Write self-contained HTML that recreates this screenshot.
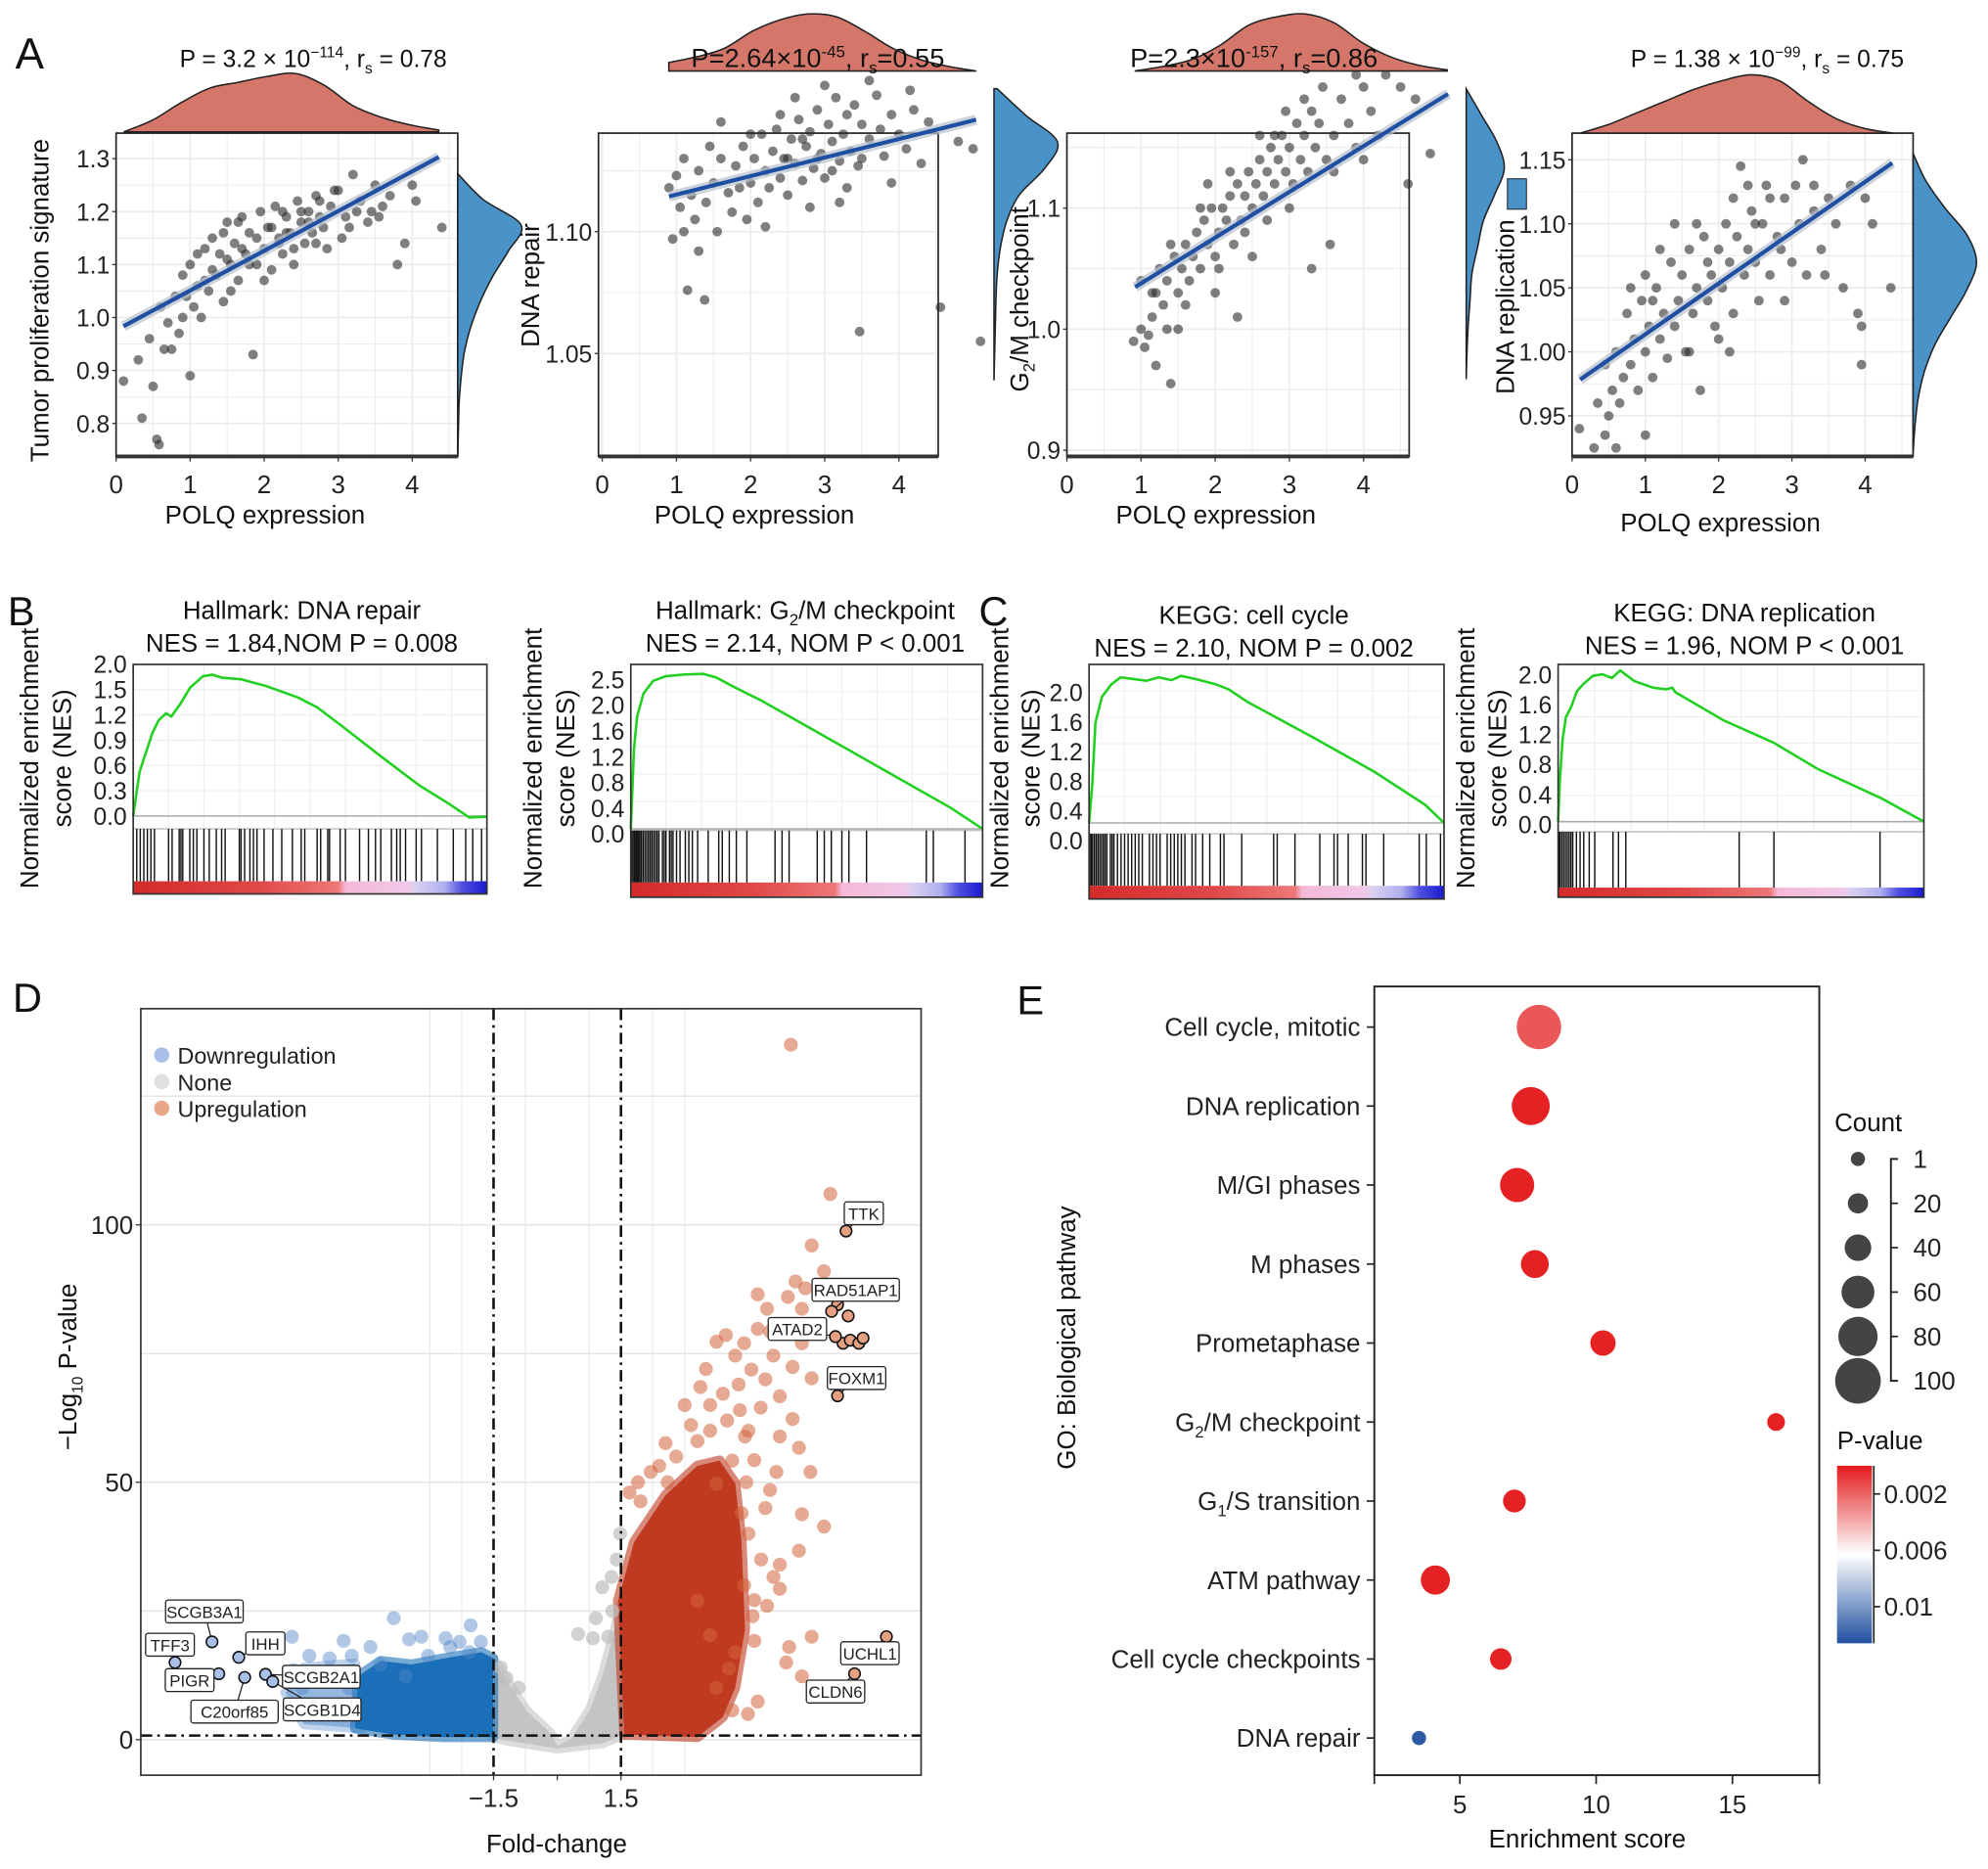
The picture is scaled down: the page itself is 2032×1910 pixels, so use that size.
<!DOCTYPE html>
<html><head><meta charset="utf-8"><title>POLQ figure</title>
<style>
html,body{margin:0;padding:0;background:#fff;}
svg{display:block;font-family:"Liberation Sans",Arial,sans-serif;}
</style></head>
<body>
<svg id="fig" xmlns="http://www.w3.org/2000/svg" width="2032" height="1910" viewBox="0 0 1568 1474">
<defs>
<linearGradient id="rankGrad" x1="0" x2="1" y1="0" y2="0">
<stop offset="0" stop-color="#d42a2a"/><stop offset="0.35" stop-color="#e04848"/><stop offset="0.58" stop-color="#ee7878"/>
<stop offset="0.6" stop-color="#f5b8d8"/><stop offset="0.78" stop-color="#f0c8e8"/><stop offset="0.8" stop-color="#d8d0f0"/>
<stop offset="0.88" stop-color="#b0b0f0"/><stop offset="0.93" stop-color="#5050e0"/><stop offset="1" stop-color="#1a1ad0"/>
</linearGradient>
<linearGradient id="pGrad" x1="0" x2="0" y1="0" y2="1">
<stop offset="0" stop-color="#e31a1c"/><stop offset="0.45" stop-color="#fbeaea"/><stop offset="0.5" stop-color="#ffffff"/><stop offset="1" stop-color="#2050a0"/>
</linearGradient>
</defs>
<rect x="0" y="0" width="1568" height="1474" fill="#fff"/>
<g id="panelA"></g>
<g id="panelBC"></g>
<g id="panelD"></g>
<g id="panelE"></g>

<g fill="#111">
<text x="12" y="54" font-size="34">A</text>
<text x="6" y="493" font-size="32">B</text>
<text x="772" y="493" font-size="32">C</text>
<text x="10" y="798" font-size="32">D</text>
<text x="802" y="800" font-size="32">E</text>

<text x="247" y="53" font-size="19" text-anchor="middle">P = 3.2 × 10<tspan dy="-8" font-size="12">−114</tspan><tspan dy="8">, r</tspan><tspan dy="5" font-size="12">s</tspan><tspan dy="-5"> = 0.78</tspan></text>
<text x="645" y="53" font-size="21" text-anchor="middle">P=2.64×10<tspan dy="-8" font-size="13">-45</tspan><tspan dy="8">, r</tspan><tspan dy="5" font-size="13">s</tspan><tspan dy="-5">=0.55</tspan></text>
<text x="989" y="53" font-size="21" text-anchor="middle">P=2.3×10<tspan dy="-8" font-size="13">-157</tspan><tspan dy="8">, r</tspan><tspan dy="5" font-size="13">s</tspan><tspan dy="-5">=0.86</tspan></text>
<text x="1394" y="53" font-size="19" text-anchor="middle">P = 1.38 × 10<tspan dy="-8" font-size="12">−99</tspan><tspan dy="8">, r</tspan><tspan dy="5" font-size="12">s</tspan><tspan dy="-5"> = 0.75</tspan></text>

<text x="209" y="413" font-size="20" text-anchor="middle">POLQ expression</text>
<text x="595" y="413" font-size="20" text-anchor="middle">POLQ expression</text>
<text x="959" y="413" font-size="20" text-anchor="middle">POLQ expression</text>
<text x="1357" y="419" font-size="20" text-anchor="middle">POLQ expression</text>
<text x="0" y="0" font-size="20" text-anchor="middle" transform="translate(38,237) rotate(-90)">Tumor proliferation signature</text>
<text x="0" y="0" font-size="20" text-anchor="middle" transform="translate(425,225) rotate(-90)">DNA repair</text>
<text x="0" y="0" font-size="20" text-anchor="middle" transform="translate(811,236) rotate(-90)">G<tspan dy="5" font-size="13">2</tspan><tspan dy="-5">/M checkpoint</tspan></text>
<text x="0" y="0" font-size="20" text-anchor="middle" transform="translate(1194,242) rotate(-90)">DNA replication</text>

<text x="238" y="488" font-size="20" text-anchor="middle">Hallmark: DNA repair</text>
<text x="238" y="514" font-size="20" text-anchor="middle">NES = 1.84,NOM P = 0.008</text>
<text x="635" y="488" font-size="20" text-anchor="middle">Hallmark: G<tspan dy="5" font-size="13">2</tspan><tspan dy="-5">/M checkpoint</tspan></text>
<text x="635" y="514" font-size="20" text-anchor="middle">NES = 2.14, NOM P &lt; 0.001</text>
<text x="989" y="492" font-size="20" text-anchor="middle">KEGG: cell cycle</text>
<text x="989" y="518" font-size="20" text-anchor="middle">NES = 2.10, NOM P = 0.002</text>
<text x="1376" y="490" font-size="20" text-anchor="middle">KEGG: DNA replication</text>
<text x="1376" y="516" font-size="20" text-anchor="middle">NES = 1.96, NOM P &lt; 0.001</text>

<g font-size="20" text-anchor="middle">
<text transform="translate(30,598) rotate(-90)">Normalized enrichment</text>
<text transform="translate(56,598) rotate(-90)">score (NES)</text>
<text transform="translate(427,598) rotate(-90)">Normalized enrichment</text>
<text transform="translate(453,598) rotate(-90)">score (NES)</text>
<text transform="translate(795,598) rotate(-90)">Normalized enrichment</text>
<text transform="translate(820,598) rotate(-90)">score (NES)</text>
<text transform="translate(1163,598) rotate(-90)">Normalized enrichment</text>
<text transform="translate(1188,598) rotate(-90)">score (NES)</text>
</g>

<text x="439" y="1461" font-size="20" text-anchor="middle">Fold-change</text>
<text transform="translate(60,1078) rotate(-90)" font-size="20" text-anchor="middle">−Log<tspan dy="5" font-size="12">10</tspan><tspan dy="-5"> P-value</tspan></text>

<text x="1252" y="1457" font-size="20" text-anchor="middle">Enrichment score</text>
<text transform="translate(848,1055) rotate(-90)" font-size="20" text-anchor="middle">GO: Biological pathway</text>
<text x="1447" y="892" font-size="20">Count</text>
<text x="1449" y="1143" font-size="20">P-value</text>
</g>
</svg>

<script>
// ================= DATA =================
const P1_POINTS=[[0.1,.88],[.3,.92],[.35,.81],[.45,.96],[.5,.87],[.55,.77],[.58,.76],[.6,1.02],[.7,.99],[.75,.94],[.8,1.04],[.85,.97],[.9,1.08],[1,.89],[1,1.1],[1.05,1.02],[1.1,1.06],[1.15,1.0],[1.2,1.13],[1.25,1.05],[1.3,1.15],[1.35,1.08],[1.4,1.12],[1.45,1.03],[1.5,1.18],[1.55,1.1],[1.6,1.14],[1.65,1.07],[1.7,1.19],[1.75,1.12],[1.8,1.16],[1.85,.93],[1.9,1.1],[1.95,1.2],[2,1.13],[2.05,1.17],[2.1,1.09],[2.15,1.21],[2.2,1.15],[2.25,1.12],[2.3,1.19],[2.35,1.16],[2.4,1.13],[2.45,1.22],[2.5,1.18],[2.55,1.14],[2.6,1.2],[2.65,1.16],[2.7,1.23],[2.75,1.19],[2.8,1.17],[2.9,1.21],[3,1.24],[3.1,1.19],[3.2,1.27],[3.3,1.22],[3.4,1.18],[3.5,1.25],[3.6,1.21],[3.7,1.23],[3.8,1.10],[3.9,1.14],[4.0,1.25],[4.05,1.22],[4.4,1.17],[1.3,1.09],[1.5,1.11],[1.7,1.13],[1.9,1.15],[2.1,1.17],[2.3,1.16],[2.5,1.2],[2.7,1.14],[2.2,1.14],[1.8,1.1],[2.6,1.18],[1.2,1.07],[.9,1.0],[3.05,1.15],[3.25,1.2],[2.95,1.24],[1.45,1.16],[1.65,1.18],[2.0,1.07],[2.4,1.1],[2.85,1.13],[3.45,1.2],[1.1,1.12],[0.65,.94],[0.95,1.04],[1.55,1.05],[2.25,1.2],[2.75,1.22],[3.15,1.17],[3.55,1.19]];
const P2_POINTS=[[.9,1.118],[.95,1.097],[1,1.123],[1.05,1.11],[1.1,1.13],[1.15,1.076],[1.2,1.115],[1.25,1.105],[1.3,1.125],[1.38,1.072],[1.4,1.112],[1.5,1.12],[1.55,1.1],[1.6,1.13],[1.7,1.116],[1.75,1.108],[1.8,1.127],[1.85,1.118],[1.9,1.135],[2,1.12],[2.05,1.13],[2.1,1.112],[2.15,1.14],[2.2,1.125],[2.25,1.118],[2.3,1.133],[2.35,1.142],[2.4,1.122],[2.45,1.13],[2.5,1.115],[2.55,1.138],[2.6,1.128],[2.65,1.146],[2.7,1.121],[2.75,1.135],[2.8,1.141],[2.85,1.126],[2.9,1.15],[2.95,1.132],[3,1.122],[3.05,1.144],[3.1,1.137],[3.15,1.155],[3.2,1.129],[3.25,1.14],[3.3,1.148],[3.35,1.133],[3.4,1.152],[3.45,1.127],[3.47,1.059],[3.5,1.144],[3.6,1.138],[3.7,1.156],[3.8,1.131],[3.9,1.148],[4,1.14],[4.1,1.134],[4.2,1.15],[4.3,1.128],[4.4,1.145],[4.56,1.069],[4.8,1.137],[5.0,1.134],[5.1,1.055],[1.6,1.145],[2.2,1.102],[2.8,1.11],[3.3,1.118],[3.9,1.12],[1.1,1.1],[1.95,1.105],[2.6,1.155],[3.0,1.16],[3.6,1.162],[1.45,1.135],[2.4,1.148],[3.2,1.112],[2.0,1.14],[2.9,1.13],[3.75,1.142],[4.15,1.158],[1.3,1.092],[2.5,1.13],[2.7,1.138],[3.1,1.125],[3.5,1.13]];
const P3_POINTS=[[.9,.99],[1,1.0],[1.05,.985],[1.1,.995],[1.15,1.01],[1.2,1.03],[1.2,.97],[1.25,1.05],[1.3,1.02],[1.35,1.04],[1.4,.955],[1.45,1.06],[1.5,1.03],[1.55,1.05],[1.6,1.07],[1.65,1.04],[1.7,1.06],[1.75,1.08],[1.8,1.05],[1.85,1.09],[1.9,1.07],[1.95,1.1],[2.0,1.06],[2.05,1.08],[2.1,1.1],[2.15,1.09],[2.2,1.11],[2.25,1.07],[2.3,1.12],[2.35,1.09],[2.4,1.11],[2.45,1.13],[2.5,1.1],[2.55,1.12],[2.6,1.14],[2.65,1.11],[2.7,1.13],[2.75,1.15],[2.8,1.12],[2.85,1.14],[2.9,1.16],[2.95,1.13],[3.0,1.15],[3.05,1.12],[3.1,1.17],[3.15,1.14],[3.2,1.16],[3.25,1.13],[3.3,1.18],[3.35,1.15],[3.4,1.17],[3.5,1.14],[3.6,1.16],[3.7,1.19],[3.8,1.17],[3.9,1.15],[4.0,1.2],[4.1,1.18],[4.2,1.16],[4.3,1.21],[4.5,1.2],[4.6,1.12],[4.7,1.19],[4.9,1.145],[3.55,1.07],[2.3,1.01],[3.3,1.05],[1.0,1.04],[1.35,1.0],[1.6,1.02],[2.0,1.03],[2.5,1.06],[1.8,1.1],[2.2,1.13],[2.7,1.09],[3.0,1.1],[1.4,1.07],[2.6,1.16],[3.45,1.2],[1.9,1.12],[2.4,1.08],[2.8,1.16],[3.2,1.19],[3.6,1.13],[1.5,1.0],[4.0,1.14],[3.9,1.21],[2.05,1.05],[2.95,1.18],[1.15,1.03]];
const P4_POINTS=[[.1,.94],[.3,.925],[.35,.96],[.45,.935],[.45,.99],[.5,.95],[.55,.97],[.6,.925],[.6,1.0],[.7,.98],[.75,1.03],[.8,.99],[.85,1.01],[.9,.97],[.95,1.04],[1.0,.935],[1.0,1.0],[1.05,1.02],[1.1,.98],[1.15,1.05],[1.2,1.01],[1.25,1.03],[1.3,.995],[1.35,1.07],[1.4,1.02],[1.45,1.04],[1.5,1.06],[1.55,1.0],[1.6,1.08],[1.65,1.03],[1.7,1.05],[1.75,.97],[1.8,1.09],[1.85,1.04],[1.9,1.06],[1.95,1.02],[2.0,1.08],[2.05,1.05],[2.1,1.1],[2.15,1.07],[2.2,1.03],[2.25,1.09],[2.3,1.145],[2.35,1.06],[2.4,1.08],[2.45,1.11],[2.5,1.07],[2.55,1.04],[2.6,1.1],[2.65,1.13],[2.7,1.06],[2.8,1.09],[2.9,1.12],[3.0,1.07],[3.1,1.1],[3.15,1.15],[3.2,1.06],[3.3,1.11],[3.4,1.08],[3.5,1.12],[3.6,1.1],[3.7,1.05],[3.8,1.13],[3.9,1.03],[3.95,1.02],[4.0,1.12],[4.1,1.1],[4.35,1.05],[3.95,.99],[1.0,1.06],[1.4,1.1],[2.0,1.01],[2.4,1.13],[2.7,1.12],[1.2,1.08],[0.8,1.05],[1.6,1.0],[2.2,1.12],[2.9,1.04],[3.3,1.13],[1.1,1.04],[1.7,1.1],[2.5,1.1],[3.05,1.13],[0.65,0.96],[2.15,1.0],[2.85,1.08],[1.85,1.07],[3.45,1.06]];
const P1_FIT=[0.976,0.075];
const P2_FIT=[1.1076,0.0076];
const P3_FIT=[1.0,0.0378];
const P4_FIT=[0.974,0.0397];
const A_X_TICKS=[0,1,2,3,4];
const P1_Y_TICKS=[0.8,0.9,1.0,1.1,1.2,1.3];
const P2_Y_TICKS=[1.05,1.10];
const P3_Y_TICKS=[0.9,1.0,1.1];
const P4_Y_TICKS=[0.95,1.00,1.05,1.10,1.15];
const P1_TOP=[0,.2,.5,.75,.85,.95,1,.8,.45,.25,.12,.03];
const P1_RIGHT=[0,.4,1,.8,.55,.35,.2,.1,.05,.02,.01,0];
const P2_TOP=[0.15,.25,.4,.7,.9,1,.95,.7,.4,.2,.08,0];
const P2_RIGHT=[0.05,.5,1,.8,.4,.2,.1,.05,.03,.02,.01,0];
const P3_TOP=[0,.08,.2,.45,.8,.95,1,.85,.5,.25,.1,.02];
const P3_RIGHT=[0,.4,.8,1,.75,.45,.3,.15,.1,.05,.02,0];
const P4_TOP=[0,.15,.35,.55,.75,.9,1,.9,.55,.25,.08,0];
const P4_RIGHT=[0,.2,.5,.85,1,.85,.6,.35,.18,.08,.03,0];

const B1_ES=[[0,0],[.018,.58],[.054,1.09],[.072,1.26],[.093,1.35],[.108,1.31],[.134,1.48],[.161,1.69],[.197,1.84],[.224,1.86],[.251,1.82],[.305,1.8],[.376,1.71],[.466,1.56],[.52,1.43],[.591,1.18],[.699,.79],[.806,.41],[.896,.15],[.95,-.02],[1,-.01]];
const B2_ES=[[0,0],[.009,1.33],[.018,1.88],[.036,2.26],[.063,2.47],[.099,2.55],[.153,2.58],[.207,2.59],[.243,2.53],[.297,2.36],[.369,2.15],[.55,1.55],[.73,.95],[.91,.35],[1,0]];
const C1_ES=[[0,0],[.009,.54],[.018,1.43],[.036,1.8],[.063,1.98],[.089,2.08],[.161,2.03],[.196,2.08],[.232,2.04],[.259,2.1],[.304,2.05],[.357,1.98],[.393,1.91],[.446,1.73],[.625,1.24],[.804,.73],[.946,.26],[1,0]];
const C2_ES=[[0,0],[.005,.57],[.012,1.09],[.021,1.39],[.035,1.52],[.052,1.74],[.069,1.83],[.095,1.94],[.121,1.96],[.147,1.91],[.17,2.01],[.208,1.87],[.26,1.78],[.295,1.76],[.312,1.78],[.321,1.72],[.451,1.35],[.589,1.05],[.71,.7],[.884,.31],[1,0]];
const B1_HITS=[.01,.02,.03,.04,.05,.06,.1,.11,.13,.135,.14,.16,.17,.18,.2,.215,.235,.25,.26,.3,.305,.315,.33,.34,.35,.37,.395,.42,.45,.475,.485,.52,.53,.55,.555,.585,.6,.64,.665,.685,.7,.73,.745,.755,.77,.8,.815,.86,.905,.94,.96,.985];
const B2_HITS=[.002,.006,.01,.014,.018,.022,.026,.03,.035,.04,.045,.05,.055,.06,.065,.07,.075,.08,.09,.095,.1,.11,.115,.12,.13,.14,.155,.165,.175,.19,.22,.25,.26,.28,.3,.33,.41,.43,.45,.53,.55,.57,.6,.62,.67,.84,.86,.95];
const C1_HITS=[.002,.006,.01,.015,.02,.025,.03,.035,.04,.045,.05,.06,.065,.07,.08,.09,.1,.11,.12,.13,.14,.15,.17,.18,.19,.2,.22,.23,.24,.25,.26,.27,.29,.3,.32,.34,.37,.38,.43,.52,.53,.58,.65,.69,.7,.73,.77,.78,.83,.93,.95,.99];
const C2_HITS=[.002,.005,.01,.015,.02,.025,.03,.035,.04,.05,.06,.07,.085,.1,.15,.165,.185,.495,.59,.88];
const B1_TICKS=['2.0','1.5','1.2','0.9','0.6','0.3','0.0'];
const B2_TICKS=['2.5','2.0','1.6','1.2','0.8','0.4','0.0'];
const C1_TICKS=['2.0','1.6','1.2','0.8','0.4','0.0'];
const C2_TICKS=['2.0','1.6','1.2','0.8','0.4','0.0'];

const UP_POINTS=[[6.43,106],[5.99,96],[6.28,91],[5.61,89],[4.72,86.5],[5.43,86],[4.94,83.7],[5.76,83.7],[4.72,79.8],[3.97,78.6],[3.75,77.3],[4.19,74.6],[5.09,74.6],[4.57,71.9],[5.54,72.4],[5.99,70.2],[3.37,68.5],[3.0,65],[3.9,67.2],[5.24,66.7],[4.79,64.5],[5.54,62.3],[3.15,61.1],[4.42,58.9],[5.69,56.7],[4.12,54.2],[2.4,53.2],[5.16,52],[5.96,52],[1.7,48],[1.96,46.3],[5.01,48.5],[6.28,41.4],[5.76,43.8],[5.69,36.7],[5.24,34],[5.09,31.6],[5.24,29.3],[4.64,27.1],[4.94,26],[5.99,20],[4.64,19.2],[5.46,18],[4.19,17],[5.39,15],[5.76,12.3],[4.72,7.4],[4.49,5],[4.12,5.7],[4.04,13.8],[3.75,10.1],[3.6,20.3],[3.3,27],[4.34,44],[3.75,49.7],[4.64,54.3],[2.55,57.6],[3.6,60],[5.24,58.9],[4.27,69],[5.01,79.3],[5.76,77],[5.84,87.7],[5.5,135],[4.5,40],[4.8,35],[4.4,30],[4.6,24],[4.45,50],[4.9,45],[2.8,55],[3.3,58],[4.0,62],[3.6,65],[4.3,64],[4.5,60],[4.9,70],[4.4,77],[3.5,72],[2.6,50],[2.2,52],[1.9,50]];
const DOWN_POINTS=[[-3.85,23.6],[-2.04,22.2],[-6.25,20],[-5.03,19.2],[-3.49,19.5],[-2.63,19.7],[-5.84,16.3],[-5.36,15.8],[-4.84,16.3],[-3.04,16.3],[-2.07,17],[-2.52,18],[-6.21,13.5],[-4.16,14.6],[-3.57,12.3],[-5.58,11.3],[-4.4,18],[-3.2,20],[-2.3,19],[-5.2,13],[-6.0,10],[-4.9,10],[-1.8,19]];
const NONE_POINTS=[[1.48,40],[1.28,31.6],[1.06,29.6],[0.91,23.6],[0.49,20.5],[0.84,19.7],[-1.33,14],[-0.91,10.1],[1.3,25],[1.2,20],[1.4,35],[-1.2,12]];
const UP_CORE=[[1.58,1],[1.43,27],[1.81,38.4],[2.55,47.5],[3.3,53.2],[3.82,54.2],[4.19,49.8],[4.34,38.4],[4.42,21.4],[4.19,10.1],[3.9,4.4],[3.3,0.5]];
const DOWN_CORE=[[-4.76,2.2],[-4.69,12.3],[-4.16,15.3],[-3.42,14.6],[-2.67,15.8],[-1.78,17],[-1.51,15.8],[-1.51,0.5],[-2.67,0.5],[-3.87,1]];
const DOWN_TAIL=[[-6.4,9.1],[-5.96,14],[-4.76,14.8],[-4.6,2.2],[-5.96,3]];
const NONE_CORE=[[-1.51,15.8],[-1.18,11.3],[-0.73,5.7],[-0.13,1],[0,-1.2],[0.31,0],[0.76,5.7],[1.06,12.3],[1.36,21.4],[1.48,25.9],[1.57,1],[1.06,-0.7],[0,-1.7],[-1.18,-0.2],[-1.51,0.5]];
const GENE_LABELS=['TTK','RAD51AP1','ATAD2','FOXM1','UCHL1','CLDN6','SCGB3A1','TFF3','IHH','PIGR','SCGB2A1','C20orf85','SCGB1D4'];
const GENE_FC=[6.8,6.46,6.55,6.6,7.75,7.0,-8.13,-9.0,-7.5,-7.97,-6.87,-7.36,-6.7];
const GENE_P=[98.8,83.2,78.3,66.8,20,12.8,19,15,16,12.8,12.7,12.1,11.3];
const HILITE_FC=[6.85,6.73,6.9,7.1,7.2,6.6];
const HILITE_P=[82.3,77,77.6,77,78,84.5];
const D_Y_TICKS=[0,50,100];
const D_X_TICKS=['−1.5','1.5'];
const D_X_TICK_VALUES=[-1.5,1.5];

const E_PATHWAYS=['Cell cycle, mitotic','DNA replication','M/GI phases','M phases','Prometaphase','G_2/M checkpoint','G_1/S transition','ATM pathway','Cell cycle checkpoints','DNA repair'];
const E_SCORES=[7.9,7.6,7.1,7.75,10.25,16.6,7.0,4.1,6.5,3.5];
const E_COUNTS=[96,76,64,44,36,12,28,48,24,1];
const E_PVALUES=[0.0015,0.0002,0.0002,0.0002,0.0002,0.0002,0.0002,0.0002,0.0002,0.0122];
const E_X_TICKS=[5,10,15];
const COUNT_LEGEND=[1,20,40,60,80,100];
const PVAL_LEGEND=[0.002,0.006,0.01];

// ================= HELPERS =================
const NS='http://www.w3.org/2000/svg';
function mk(tag,attrs,parent){const e=document.createElementNS(NS,tag);for(const k in attrs)e.setAttribute(k,attrs[k]);parent.appendChild(e);return e;}
function smoothPath(pts){
  let d='M'+pts[0][0].toFixed(1)+','+pts[0][1].toFixed(1);
  for(let i=0;i<pts.length-1;i++){
    const p0=pts[i-1]||pts[i],p1=pts[i],p2=pts[i+1],p3=pts[i+2]||p2;
    const c1=[p1[0]+(p2[0]-p0[0])/6,p1[1]+(p2[1]-p0[1])/6];
    const c2=[p2[0]-(p3[0]-p1[0])/6,p2[1]-(p3[1]-p1[1])/6];
    d+=' C'+c1[0].toFixed(1)+','+c1[1].toFixed(1)+' '+c2[0].toFixed(1)+','+c2[1].toFixed(1)+' '+p2[0].toFixed(1)+','+p2[1].toFixed(1);
  }
  return d;
}

// ================= PANEL A =================
const gA=document.getElementById('panelA');
const A_PLOTS=[
 {id:'a1',pts:P1_POINTS,fit:P1_FIT,fitX:[0.1,4.36],yt:P1_Y_TICKS,dec:1,top:P1_TOP,right:P1_RIGHT,x0:91.5,xk:58.4,yRef:1.0,yPx:250.4,yk:417.6,fr:[91.5,105,361,360],topD:[97.5,346,104,46],rightD:[137,360,361,50]},
 {id:'a2',pts:P2_POINTS,fit:P2_FIT,fitX:[0.9,5.04],yt:P2_Y_TICKS,dec:2,top:P2_TOP,right:P2_RIGHT,x0:475,xk:58.5,yRef:1.10,yPx:182.7,yk:1922,fr:[472,105,740,360],topD:[527.5,770,56,45],rightD:[70,300,784,50]},
 {id:'a3',pts:P3_POINTS,fit:P3_FIT,fitX:[0.92,5.14],yt:P3_Y_TICKS,dec:1,top:P3_TOP,right:P3_RIGHT,x0:841.5,xk:58.5,yRef:1.0,yPx:259.6,yk:955,fr:[841.5,105,1111.5,360],topD:[895,1141.5,56,45],rightD:[70,299,1156.5,30]},
 {id:'a4',pts:P4_POINTS,fit:P4_FIT,fitX:[0.11,4.37],yt:P4_Y_TICKS,dec:2,top:P4_TOP,right:P4_RIGHT,x0:1240,xk:57.8,yRef:1.0,yPx:277.5,yk:1010,fr:[1240,105,1509,360],topD:[1246.5,1493,105,46],rightD:[121,357,1509,50]}
];
A_PLOTS.forEach(pl=>{
  const g=mk('g',{},gA);
  
  
  const sx=v=>pl.x0+v*pl.xk, sy=v=>pl.yPx-(v-pl.yRef)*pl.yk;
  const [fx0,fy0,fx1,fy1]=pl.fr;
  A_X_TICKS.forEach(t=>{
    [t,t+0.5].forEach((v,k)=>{const x=sx(v);if(x>fx0&&x<fx1){const l=mk('line',{x1:x,x2:x,y1:fy0,y2:fy1,stroke:'#ececec','stroke-width':k?0.8:1.3},g);
      
      }});
  });
  const step=pl.yt.length>1?pl.yt[1]-pl.yt[0]:0.05;
  pl.yt.forEach(t=>{
    [t,t+step/2].forEach((v,k)=>{const y=sy(v);if(y>fy0&&y<fy1){const l=mk('line',{x1:fx0,x2:fx1,y1:y,y2:y,stroke:'#ececec','stroke-width':k?0.8:1.3},g);
      
      }});
  });
  const fr=mk('rect',{x:fx0,y:fy0,width:fx1-fx0,height:fy1-fy0,fill:'none',stroke:'#222','stroke-width':1.3},g);
  
  
  const bl=mk('line',{x1:fx0,x2:fx1,y1:fy1,y2:fy1,stroke:'#333','stroke-width':3},g);
  
  
  const [tx0,tx1,tb,th]=pl.topD;
  const tpts=pl.top.map((v,i)=>[tx0+i*(tx1-tx0)/(pl.top.length-1),tb-v*th]);
  const tp=mk('path',{d:'M'+tx0+','+tb+' L'+smoothPath(tpts).slice(1)+' L'+tx1+','+tb+' Z',fill:'#d4776a',stroke:'#222','stroke-width':1.2},g);
  
  
  const [ry0,ry1,rb,rw]=pl.rightD;
  const rpts=pl.right.map((v,i)=>[rb+v*rw,ry0+i*(ry1-ry0)/(pl.right.length-1)]);
  const rp=mk('path',{d:'M'+rb+','+ry0+' L'+smoothPath(rpts).slice(1)+' L'+rb+','+ry1+' Z',fill:'#4a93c9',stroke:'#222','stroke-width':1.2},g);
  
  
  pl.pts.forEach(p=>{
    const c=mk('circle',{cx:sx(p[0]),cy:sy(p[1]),r:3.8,fill:'#2a2a2a','fill-opacity':0.6},g);
    
    
  });
  const [a,b]=pl.fit;
  const fx=pl.fitX;
  const band=mk('line',{x1:sx(fx[0]),y1:sy(a+b*fx[0]),x2:sx(fx[1]),y2:sy(a+b*fx[1]),stroke:'#b8c0cc','stroke-width':8,'stroke-opacity':0.7},g);
  
  
  const fl=mk('line',{x1:sx(fx[0]),y1:sy(a+b*fx[0]),x2:sx(fx[1]),y2:sy(a+b*fx[1]),stroke:'#1f4fa3','stroke-width':3.2},g);
  
  
  A_X_TICKS.forEach(t=>{
    const x=sx(t);
    const tm=mk('line',{x1:x,x2:x,y1:fy1,y2:fy1+4,stroke:'#333','stroke-width':1},g);
    
    
    const tl=mk('text',{x:x,y:fy1+29,'font-size':20,'text-anchor':'middle',fill:'#222'},g);
    tl.textContent=String(t);
    
    
  });
  pl.yt.forEach(t=>{
    const y=sy(t);
    const tm=mk('line',{x1:fx0-3,x2:fx0,y1:y,y2:y,stroke:'#333','stroke-width':1},g);
    
    
    const tl=mk('text',{x:fx0-5,y:y+7,'font-size':19,'text-anchor':'end',fill:'#222'},g);
    tl.textContent=t.toFixed(pl.dec);
    
    
  });
});
(function(){const r=mk('rect',{x:1189,y:141,width:15,height:24,fill:'#4a93c9',stroke:'#222','stroke-width':0.8},gA);

})();

// ================= PANELS B/C =================
const gB=document.getElementById('panelBC');
const GSEA=[
 {id:'b1',es:B1_ES,hits:B1_HITS,ticks:B1_TICKS,x0:105,x1:384,top:524,zero:643.5,k:59.9,barTop:653.7,barBot:695,cbBot:705,labX:100,labTop:523.7,labBot:643.5},
 {id:'b2',es:B2_ES,hits:B2_HITS,ticks:B2_TICKS,x0:497.5,x1:775,top:524,zero:653.7,k:47.2,barTop:655,barBot:696,cbBot:707.6,labX:492.5,labTop:535.8,labBot:657.6},
 {id:'c1',es:C1_ES,hits:C1_HITS,ticks:C1_TICKS,x0:859,x1:1139,top:524,zero:649,k:55.2,barTop:657.6,barBot:698.6,cbBot:709,labX:854,labTop:546,labBot:662.7},
 {id:'c2',es:C2_ES,hits:C2_HITS,ticks:C2_TICKS,x0:1229,x1:1517.5,top:524,zero:648,k:59.3,barTop:656,barBot:700,cbBot:707.6,labX:1224,labTop:532,labBot:650}
];
GSEA.forEach(p=>{
  const g=mk('g',{},gB);
  
  
  const sx=f=>p.x0+f*(p.x1-p.x0), sy=v=>p.zero-v*p.k;
  for(let i=1;i<10;i++){const x=p.x0+i*(p.x1-p.x0)/10;
    const l=mk('line',{x1:x,x2:x,y1:p.top,y2:p.barTop,stroke:'#f0f0f0','stroke-width':1},g);
    
    }
  for(let i=1;i<6;i++){const y=p.top+i*(p.zero-p.top)/6;
    const l=mk('line',{x1:p.x0,x2:p.x1,y1:y,y2:y,stroke:'#f0f0f0','stroke-width':1},g);
    
    }
  const z=mk('line',{x1:p.x0,x2:p.x1,y1:p.zero,y2:p.zero,stroke:'#aaa','stroke-width':1.2},g);
  
  
  const sep=mk('line',{x1:p.x0,x2:p.x1,y1:p.barTop,y2:p.barTop,stroke:'#bbb','stroke-width':1},g);
  
  
  p.hits.forEach(f=>{
    const h=mk('line',{x1:sx(f),x2:sx(f),y1:p.barTop,y2:p.barBot,stroke:'#111','stroke-width':1.1},g);
    
    
  });
  const cb=mk('rect',{x:p.x0,y:p.barBot,width:p.x1-p.x0,height:p.cbBot-p.barBot,fill:'url(#rankGrad)'},g);
  
  
  const d=p.es.map((q,i)=>(i?'L':'M')+sx(q[0]).toFixed(1)+','+sy(q[1]).toFixed(1)).join(' ');
  const cv=mk('path',{d:d,fill:'none',stroke:'#22d022','stroke-width':2},g);
  
  
  const fr=mk('rect',{x:p.x0,y:p.top,width:p.x1-p.x0,height:p.cbBot-p.top,fill:'none',stroke:'#333','stroke-width':1.3},g);
  
  
  p.ticks.forEach((t,i)=>{
    const y=p.labTop+i*(p.labBot-p.labTop)/(p.ticks.length-1);
    const tl=mk('text',{x:p.labX,y:y+7,'font-size':19,'text-anchor':'end',fill:'#222'},g);
    tl.textContent=t;
    
    
  });
});

// ================= PANEL D =================
const gD=document.getElementById('panelD');
const DX=fc=>439.5+fc*33.5, DY=v=>1372-v*4.06;
const D_FRAME=[111,795.5,726.5,1400];
(function(){
  const [x0,y0,x1,y1]=D_FRAME;
  const bg=mk('rect',{x:x0,y:y0,width:x1-x0,height:y1-y0,fill:'#fff'},gD);
  
  
  [-3,-2.25,-0.75,0.75,2.25,3].forEach(v=>{const l=mk('line',{x1:DX(v),x2:DX(v),y1:y0,y2:y1,stroke:'#ececec','stroke-width':1},gD);
    
    });
  [0,25,50,75,100,125].forEach(v=>{const l=mk('line',{x1:x0,x2:x1,y1:DY(v),y2:DY(v),stroke:'#e6e6e6','stroke-width':1.2},gD);
    
    });
  const poly=(arr,fill,op,name)=>{const p=mk('polygon',{points:arr.map(q=>DX(q[0]).toFixed(1)+','+DY(q[1]).toFixed(1)).join(' '),fill:fill,'fill-opacity':op,stroke:fill,'stroke-width':8,'stroke-linejoin':'round','stroke-opacity':op*0.6},gD);
    
    };
  poly(NONE_CORE,'#c4c4c4',1,'none-gene-cloud');
  poly(DOWN_TAIL,'#7aa6d8',0.8,'down-gene-sparse-cloud');
  poly(DOWN_CORE,'#1a6fb8',1,'down-gene-cloud');
  poly(UP_CORE,'#c03a22',1,'up-gene-cloud');
  const pts=(arr,fill,op,name)=>arr.forEach(q=>{const c=mk('circle',{cx:DX(q[0]),cy:DY(q[1]),r:5.5,fill:fill,'fill-opacity':op},gD);
    
    });
  pts(NONE_POINTS,'#bdbdbd',0.7,'none-gene-point');
  pts(DOWN_POINTS,'#4f86c8',0.45,'down-gene-point');
  pts(UP_POINTS,'#d1633a',0.55,'up-gene-point');
  HILITE_FC.forEach((fc,i)=>{const c=mk('circle',{cx:DX(fc),cy:DY(HILITE_P[i]),r:4.5,fill:'#e4a080',stroke:'#111','stroke-width':1.2},gD);
    
    });
  const offs=[[14,-14],[19,-17],[-30,-6],[15,-14],[-13,13],[-15,14],[-6,-24],[-4,-14],[21,-11],[-23,5],[44,2],[-8,27],[39,22]];
  GENE_LABELS.forEach((name,i)=>{
    const px=DX(GENE_FC[i]),py=DY(GENE_P[i]);
    const up=GENE_FC[i]>0;
    const bx=px+offs[i][0],by=py+offs[i][1];
    const w=name.length*7.6+8;
    const ln=mk('line',{x1:px,y1:py,x2:bx,y2:by,stroke:'#222','stroke-width':1},gD);
    
    
    const c=mk('circle',{cx:px,cy:py,r:4.5,fill:up?'#e4a080':'#a8c0e8',stroke:'#111','stroke-width':1.2},gD);
    
    
    const r=mk('rect',{x:bx-w/2,y:by-9,width:w,height:18,rx:2,fill:'#fff',stroke:'#222','stroke-width':1},gD);
    
    
    const t=mk('text',{x:bx,y:by+5,'font-size':13,'text-anchor':'middle',fill:'#222'},gD);
    t.textContent=name;
    
    
  });
  D_X_TICK_VALUES.forEach(v=>{const l=mk('line',{x1:DX(v),x2:DX(v),y1:y0,y2:y1,stroke:'#111','stroke-width':2,'stroke-dasharray':'9 4 2 4'},gD);
    
    });
  const hl=mk('line',{x1:x0,x2:x1,y1:DY(0.8),y2:DY(0.8),stroke:'#111','stroke-width':2,'stroke-dasharray':'9 4 2 4'},gD);
  
  
  const fr=mk('rect',{x:x0,y:y0,width:x1-x0,height:y1-y0,fill:'none',stroke:'#333','stroke-width':1.3},gD);
  
  
  D_Y_TICKS.forEach(v=>{
    const tm=mk('line',{x1:x0-4,x2:x0,y1:DY(v),y2:DY(v),stroke:'#333'},gD);
    
    
    const t=mk('text',{x:x0-6,y:DY(v)+7,'font-size':20,'text-anchor':'end',fill:'#222'},gD);
    t.textContent=String(v);
    
    
  });
  [-1.5,0,1.5].forEach(v=>{const tm=mk('line',{x1:DX(v),x2:DX(v),y1:y1,y2:y1+4,stroke:'#333'},gD);
    
    });
  D_X_TICKS.forEach((s,i)=>{
    const t=mk('text',{x:DX(D_X_TICK_VALUES[i]),y:1425,'font-size':20,'text-anchor':'middle',fill:'#222'},gD);
    t.textContent=s;
    
    
  });
  const LEG=[['Downregulation','#a8c0e8'],['None','#e0e0e0'],['Upregulation','#e8a888']];
  LEG.forEach((e,i)=>{
    const y=832+i*21;
    const c=mk('circle',{cx:127.5,cy:y,r:6,fill:e[1]},gD);
    
    
    const t=mk('text',{x:140,y:y+7,'font-size':18,fill:'#222'},gD);
    t.textContent=e[0];
    
    
  });
})();

// ================= PANEL E =================
const gE=document.getElementById('panelE');
const EX=v=>1044+v*21.5;
const ERow=i=>810+i*62.3;
const ER=c=>5.5+0.125*c;
function pColor(p){
  const t=Math.min(1,Math.max(0,p/0.0126));
  const red=[227,26,28],wh=[255,255,255],bl=[33,80,160];
  let a,b,u;
  if(t<0.45){a=red;b=wh;u=t/0.45;}else{a=wh;b=bl;u=(t-0.45)/0.55;}
  return 'rgb('+a.map((v,i)=>Math.round(v+(b[i]-v)*u)).join(',')+')';
}
function richLabel(el,s){
  let sub=false;
  s.split(/(_\w)/).forEach(part=>{
    if(!part)return;
    if(part[0]==='_'){const ts=mk('tspan',{dy:5,'font-size':13},el);ts.textContent=part[1];sub=true;}
    else{const ts=mk('tspan',sub?{dy:-5}:{},el);ts.textContent=part;sub=false;}
  });
}
(function(){
  const fr=mk('rect',{x:1084,y:778,width:351,height:622,fill:'none',stroke:'#222','stroke-width':1.5},gE);
  
  
  E_PATHWAYS.forEach((name,i)=>{
    const y=ERow(i);
    const tm=mk('line',{x1:1078,x2:1084,y1:y,y2:y,stroke:'#222','stroke-width':1.3},gE);
    
    
    const t=mk('text',{x:1073,y:y+7,'font-size':20,'text-anchor':'end',fill:'#222'},gE);
    richLabel(t,name);
    
    
    const c=mk('circle',{cx:EX(E_SCORES[i]),cy:y,r:ER(E_COUNTS[i]),fill:pColor(E_PVALUES[i])},gE);
    
    
  });
  [1084,1435].forEach(x=>{const tm=mk('line',{x1:x,x2:x,y1:1400,y2:1407,stroke:'#222','stroke-width':1.3},gE);
    
    });
  E_X_TICKS.forEach(v=>{
    const tm=mk('line',{x1:EX(v),x2:EX(v),y1:1400,y2:1407,stroke:'#222','stroke-width':1.3},gE);
    
    
    const t=mk('text',{x:EX(v),y:1430,'font-size':20,'text-anchor':'middle',fill:'#222'},gE);
    t.textContent=String(v);
    
    
  });
  const br=mk('path',{d:'M1497,914 L1491.5,914 L1491.5,1089 L1497,1089',fill:'none',stroke:'#222','stroke-width':1.5},gE);
  
  
  COUNT_LEGEND.forEach((c,i)=>{
    const y=914+i*35;
    const cc=mk('circle',{cx:1465.5,cy:y,r:ER(c),fill:'#444'},gE);
    
    
    if(i>0&&i<5){const tm=mk('line',{x1:1491.5,x2:1497,y1:y,y2:y,stroke:'#222','stroke-width':1.3},gE);
      
      }
    const t=mk('text',{x:1509,y:y+7,'font-size':20,fill:'#222'},gE);
    t.textContent=String(c);
    
    
  });
  const cb=mk('rect',{x:1449,y:1156,width:27.5,height:140,fill:'url(#pGrad)'},gE);
  
  
  const PY=p=>1156+(p/0.0126)*140;
  const ax=mk('line',{x1:1478,x2:1478,y1:1156,y2:1296,stroke:'#222','stroke-width':1.3},gE);
  
  
  PVAL_LEGEND.forEach(p=>{
    const y=PY(p);
    const tm=mk('line',{x1:1478,x2:1483,y1:y,y2:y,stroke:'#222','stroke-width':1.3},gE);
    
    
    const t=mk('text',{x:1486,y:y+7,'font-size':20,fill:'#222'},gE);
    t.textContent=String(p);
    
    
  });
})();
</script>
</body></html>
